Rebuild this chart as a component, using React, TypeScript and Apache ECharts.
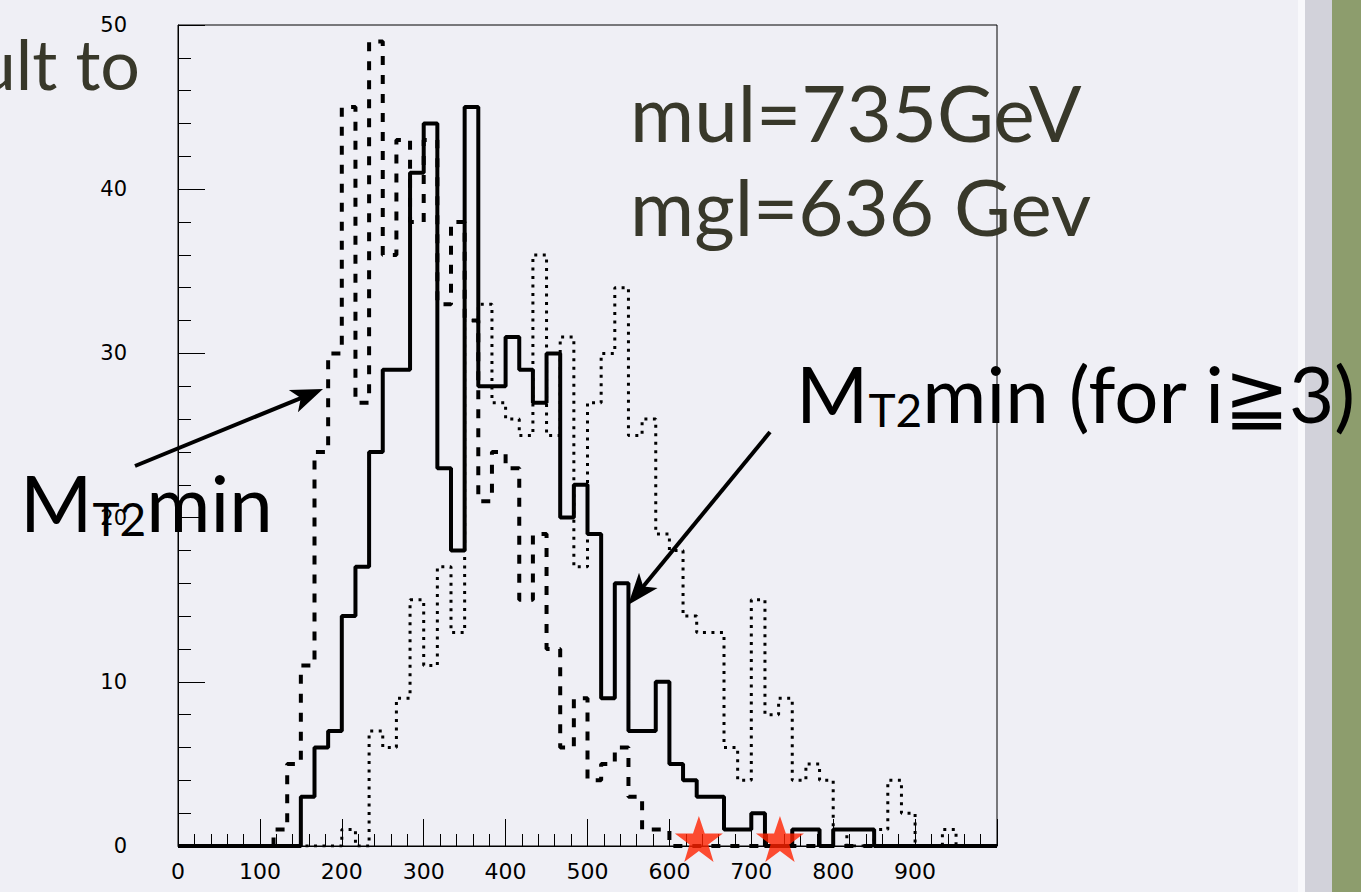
import React, { useEffect, useRef } from "react";
import * as echarts from "echarts";

// histogram definition: 60 bins from 0 to 1000
const xMin = 0;
const xMax = 1000;
const nBins = 60;

// counts per bin
const solidCounts = [
  0, 0, 0, 0, 0, 0, 0, 0, 0, 3,
  6, 7, 14, 17, 24, 29, 29, 41, 44, 23,
  18, 45, 28, 28, 31, 29, 27, 30, 20, 22,
  19, 9, 16, 7, 7, 10, 5, 4, 3, 3,
  1, 1, 2, 0, 0, 1, 1, 0, 1, 1,
  1, 0, 0, 0, 0, 0, 0, 0, 0, 0,
];
const dashedCounts = [
  0, 0, 0, 0, 0, 0, 0, 1, 5, 11,
  24, 30, 45, 27, 49, 36, 43, 38, 43, 33,
  38, 32, 21, 24, 23, 15, 19, 12, 6, 9,
  4, 5, 6, 3, 1, 1, 0, 0, 0, 0,
  0, 0, 0, 0, 0, 0, 0, 0, 0, 0,
  0, 0, 0, 0, 0, 0, 0, 0, 0, 0,
];
const dottedCounts = [
  0, 0, 0, 0, 0, 0, 0, 0, 0, 0,
  0, 0, 1, 0, 7, 6, 9, 15, 11, 17,
  13, 32, 33, 27, 26, 25, 36, 25, 31, 17,
  27, 30, 34, 25, 26, 19, 18, 14, 13, 13,
  6, 4, 15, 8, 9, 4, 5, 4, 1, 0,
  0, 1, 4, 2, 0, 0, 1, 0, 0, 0,
];

const xTickLabels = ["0", "100", "200", "300", "400", "500", "600", "700", "800", "900"];
const yTickLabels = ["0", "10", "20", "30", "40", "50"];

// star markers (mgl, mul)
const starValues = [636, 735];

const STAR =
  "path://M50,0 L61.8,35.1 L98.1,35.1 L68.8,56.7 L79.4,91.9 L50,70.1 L20.6,91.9 L31.2,56.7 L1.9,35.1 L38.2,35.1 Z";

function histData(counts: number[]) {
  const w = (xMax - xMin) / nBins;
  const pts: number[][] = [];
  for (let i = 0; i <= nBins; i++) {
    pts.push([xMin + i * w, counts[Math.min(i, nBins - 1)]]);
  }
  return pts;
}

const textColor = "#38382a";
const annFont = "Lato";

function arrow(x1: number, y1: number, x2: number, y2: number) {
  const dx = x2 - x1;
  const dy = y2 - y1;
  const L = Math.sqrt(dx * dx + dy * dy);
  const ux = dx / L;
  const uy = dy / L;
  const hl = 32;
  const hw = 12;
  const bx = x2 - ux * hl;
  const by = y2 - uy * hl;
  return [
    {
      type: "line",
      shape: { x1, y1, x2: x2 - ux * 12, y2: y2 - uy * 12 },
      style: { stroke: "#000", lineWidth: 4 },
    },
    {
      type: "polygon",
      shape: {
        points: [
          [x2, y2],
          [bx - uy * hw, by + ux * hw],
          [bx + ux * 8, by + uy * 8],
          [bx + uy * hw, by - ux * hw],
        ],
      },
      style: { fill: "#000" },
    },
  ];
}

export default function App() {
  const ref = useRef<HTMLDivElement>(null);
  useEffect(() => {
    const chart = echarts.init(ref.current!, null, { renderer: "svg" });
    const rich = {
      M: { fontSize: 78, fontFamily: annFont, color: textColor, verticalAlign: "bottom", lineHeight: 86 },
      s: { fontSize: 46, fontFamily: annFont, color: textColor, verticalAlign: "bottom", lineHeight: 76 },
      n: { fontSize: 78, fontFamily: annFont, color: textColor, verticalAlign: "bottom", lineHeight: 86 },
    };
    chart.setOption({
      animation: false,
      backgroundColor: "#efeff5",
      grid: {
        left: 178,
        top: 25,
        right: 364,
        bottom: 46,
        show: true,
        borderColor: "#000",
        borderWidth: 1,
        containLabel: false,
      },
      xAxis: {
        type: "value",
        min: xMin,
        max: xMax,
        interval: 100,
        splitLine: { show: false },
        axisLine: { show: true, lineStyle: { color: "#000", width: 1 } },
        axisTick: { show: true, inside: true, length: 27, lineStyle: { color: "#000" } },
        minorTick: { show: true, splitNumber: 5, length: 12, lineStyle: { color: "#000" } },
        axisLabel: {
          fontSize: 22,
          color: "#000",
          fontFamily: "DejaVu Sans",
          margin: 14,
          formatter: (v: number) => {
            const idx = Math.round(v / 100);
            return idx < xTickLabels.length ? xTickLabels[idx] : "";
          },
        },
      },
      yAxis: {
        type: "value",
        min: 0,
        max: 50,
        interval: 10,
        splitLine: { show: false },
        axisLine: { show: true, lineStyle: { color: "#000", width: 1 } },
        axisTick: { show: true, inside: true, length: 27, lineStyle: { color: "#000" } },
        minorTick: { show: true, splitNumber: 5, length: 13, lineStyle: { color: "#000" } },
        axisLabel: {
          fontSize: 21,
          color: "#000",
          fontFamily: "DejaVu Sans",
          margin: 51,
          formatter: (v: number) => yTickLabels[Math.round(v / 10)] ?? "",
        },
      },
      series: [
        {
          type: "line",
          step: "end",
          symbol: "none",
          data: histData(dottedCounts),
          lineStyle: { color: "#000", width: 3, type: [3, 5.5] },
          z: 2,
        },
        {
          type: "line",
          step: "end",
          symbol: "none",
          data: histData(dashedCounts),
          lineStyle: { color: "#000", width: 4, type: [9, 10] },
          z: 3,
        },
        {
          type: "line",
          step: "end",
          symbol: "none",
          data: histData(solidCounts),
          lineStyle: { color: "#000", width: 4 },
          z: 4,
        },
        {
          type: "scatter",
          symbol: STAR,
          symbolSize: [48, 46],
          symbolOffset: [0, -7],
          itemStyle: { color: "#ff2200" },
          data: starValues.map((v) => [v, 0]),
          z: 10,
          clip: false,
        },
      ],
      graphic: [
        { type: "rect", shape: { x: 1298, y: 0, width: 7, height: 892 }, style: { fill: "#f8f8fb" }, silent: true },
        { type: "rect", shape: { x: 1305, y: 0, width: 27, height: 892 }, style: { fill: "#d2d2da" }, silent: true },
        { type: "rect", shape: { x: 1332, y: 0, width: 29, height: 892 }, style: { fill: "#8d9d6d" }, silent: true },
        {
          type: "text",
          x: 140,
          y: 98,
          style: {
            text: "ult to",
            fontSize: 70,
            fontFamily: annFont,
            fill: textColor,
            textAlign: "right",
            textVerticalAlign: "bottom",
          },
        },
        {
          type: "text",
          x: 630,
          y: 151,
          style: { text: "mul=735GeV", fontSize: 78, fontFamily: annFont, fill: textColor, textVerticalAlign: "bottom" },
        },
        {
          type: "text",
          x: 630,
          y: 245,
          style: { text: "mgl=636 Gev", fontSize: 78, fontFamily: annFont, fill: textColor, textVerticalAlign: "bottom" },
        },
        {
          type: "text",
          x: 796,
          y: 346,
          style: { text: "{M|M}{s|T2}{n|min (for i≧3)}", rich },
        },
        {
          type: "text",
          x: 20,
          y: 455,
          style: { text: "{M|M}{s|T2}{n|min}", rich },
        },
        ...arrow(135, 466, 323, 389),
        ...arrow(770, 432, 628, 605),
      ],
    });
    return () => chart.dispose();
  }, []);
  return (
    <div
      ref={ref}
      style={{ position: "fixed", left: 0, top: 0, width: 1361, height: 892 }}
    />
  );
}
